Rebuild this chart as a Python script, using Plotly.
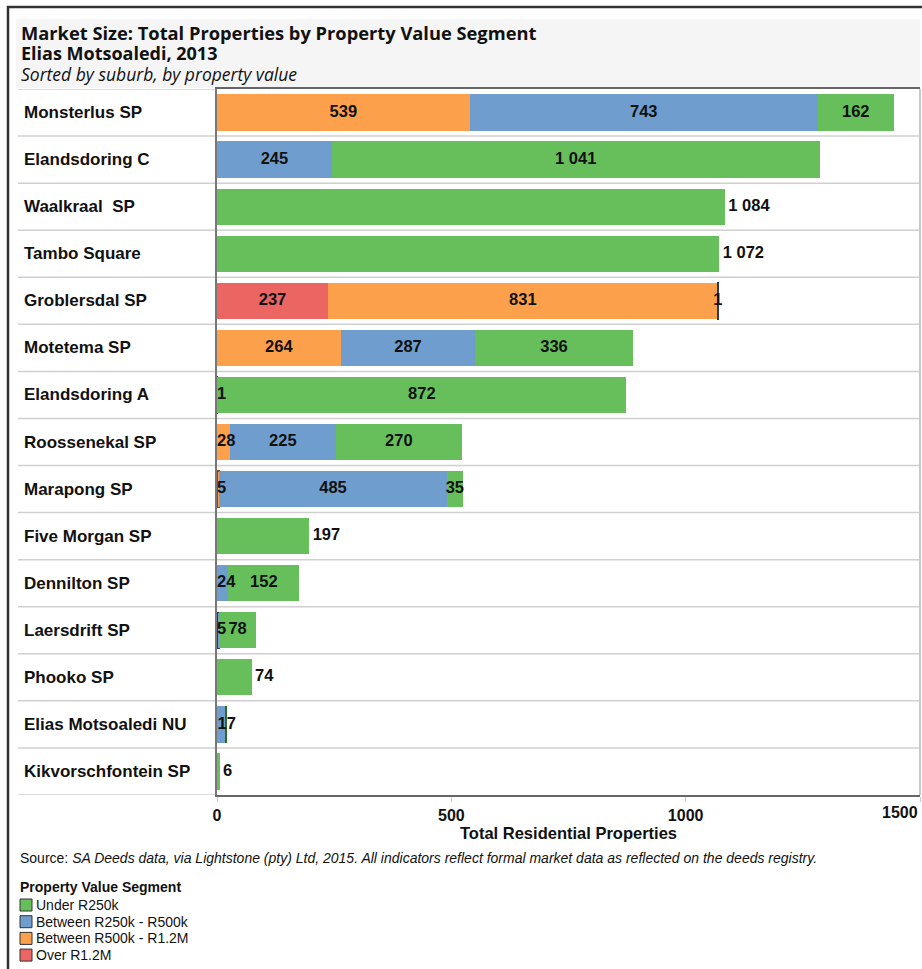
import plotly.graph_objects as go

# ---------------- data ----------------
suburbs = ["Monsterlus SP", "Elandsdoring C", "Waalkraal\u00a0 SP", "Tambo Square",
           "Groblersdal SP", "Motetema SP", "Elandsdoring A", "Roossenekal SP",
           "Marapong SP", "Five Morgan SP", "Dennilton SP", "Laersdrift SP",
           "Phooko SP", "Elias Motsoaledi NU", "Kikvorschfontein SP"]

segments = ["Over R1.2M", "Between R500k - R1.2M", "Between R250k - R500k", "Under R250k"]
colors = ["#EB6562", "#FDA04B", "#6F9ECE", "#67BF5C"]
edge_colors = ["#8A2A28", "#8A4A10", "#1F3F66", "#2E6A26"]

over_1_2m = [None, None, None, None, 237, None, None, None, None, None, None, None, None, None, None]
r500k_1_2m = [539, None, None, None, 831, 264, None, 28, 5, None, None, None, None, 1, None]
r250k_500k = [743, 245, None, None, 1, 287, 1, 225, 485, None, 24, 5, None, 17, None]
under_250k = [162, 1041, 1084, 1072, None, 336, 872, 270, 35, 197, 152, 78, 74, 3, 6]

series = [over_1_2m, r500k_1_2m, r250k_500k, under_250k]
hidden_labels = {("Elias Motsoaledi NU", "Between R500k - R1.2M"),
                 ("Elias Motsoaledi NU", "Under R250k")}
start_labels = {("Elandsdoring A", "Between R250k - R500k"),
                ("Roossenekal SP", "Between R500k - R1.2M"),
                ("Marapong SP", "Between R500k - R1.2M"),
                ("Dennilton SP", "Between R250k - R500k"),
                ("Laersdrift SP", "Between R250k - R500k"),
                ("Elias Motsoaledi NU", "Between R250k - R500k")}

tick_vals = [0, 500, 1000, 1500]
x_max = 1500

title1 = "Market Size: Total Properties by Property Value Segment"
title2 = "Elias Motsoaledi, 2013"
title3 = "Sorted by suburb, by property value"
x_title = "Total Residential Properties"
source = "Source: <i>SA Deeds data, via Lightstone (pty) Ltd, 2015. All indicators reflect formal market data as reflected on the deeds registry.</i>"
legend_title = "Property Value Segment"

# ---------------- layout geometry (pixels) ----------------
FW, FH = 922, 969
L, R, T, B = 217, 920, 89, 795
W, H = R - L, B - T


def px(x):
    return (x - L) / W


def py(y):
    return (B - y) / H


ARIAL = "Liberation Sans, Arial, sans-serif"
TFONT = "Open Sans, sans-serif"
LBL = dict(family=ARIAL, size=16.5, color="#111111", weight="bold")


def fmt(v):
    return f"{v:,}".replace(",", "\u00a0")


fig = go.Figure()
n = len(suburbs)

# stacked bars
for name, col, edge, vals in zip(segments, colors, edge_colors, series):
    fig.add_trace(go.Bar(
        y=suburbs, x=vals, orientation="h", name=name,
        marker=dict(color=col, line=dict(color=edge,
                                         width=[1.2 if (v is not None and v <= 5) else 0 for v in vals])),
        showlegend=False, hoverinfo="x+y+name",
    ))

# value labels, drawn on top of all bars
centre_x, centre_y, centre_t = [], [], []
start_x, start_y, start_t = [], [], []
out_x, out_y, out_t = [], [], []
for i, s in enumerate(suburbs):
    present = [(name, vals[i]) for name, vals in zip(segments, series) if vals[i] is not None]
    base = 0
    for name, v in present:
        label = "" if (s, name) in hidden_labels else fmt(v)
        if len(present) == 1:
            out_x.append(base + v); out_y.append(s); out_t.append("\u2009" + label)
        elif (s, name) in start_labels:
            start_x.append(base); start_y.append(s); start_t.append(label)
        else:
            centre_x.append(base + v / 2); centre_y.append(s); centre_t.append(label)
        base += v

for xs, ys, ts, pos in ((centre_x, centre_y, centre_t, "middle center"),
                        (start_x, start_y, start_t, "middle right"),
                        (out_x, out_y, out_t, "middle right")):
    fig.add_trace(go.Scatter(x=xs, y=ys, text=ts, mode="text", textposition=pos,
                             textfont=LBL, cliponaxis=False, showlegend=False,
                             hoverinfo="skip"))

shapes = []
# outer frame
shapes.append(dict(type="rect", xref="paper", yref="paper", x0=px(8), x1=px(1100),
                   y0=py(1100), y1=py(7), line=dict(color="#333333", width=2.5),
                   fillcolor="rgba(0,0,0,0)", layer="above"))
# title background
shapes.append(dict(type="rect", xref="paper", yref="paper", x0=px(16), x1=px(920),
                   y0=py(88), y1=py(19), line=dict(width=0), fillcolor="#F5F5F5", layer="below"))
# row separators
for i in range(n + 1):
    shapes.append(dict(type="line", xref="paper", yref="y", x0=px(18), x1=px(L) if i in (0, n) else px(920),
                       y0=i - 0.5, y1=i - 0.5, line=dict(color="#D0D0D0", width=1.5), layer="below"))
# right border of plot area
shapes.append(dict(type="line", xref="paper", yref="paper", x0=1, x1=1, y0=0, y1=1,
                   line=dict(color="#C8C8C8", width=2)))

annotations = []
annotations.append(dict(text="<b>" + title1 + "</b>", xref="paper", yref="paper", x=px(19), y=py(32),
                        xanchor="left", yanchor="middle", showarrow=False,
                        font=dict(family=TFONT, size=18.3, color="#111111")))
annotations.append(dict(text="<b>" + title2 + "</b>", xref="paper", yref="paper", x=px(19), y=py(53),
                        xanchor="left", yanchor="middle", showarrow=False,
                        font=dict(family=TFONT, size=18, color="#111111")))
annotations.append(dict(text="<i>" + title3 + "</i>", xref="paper", yref="paper", x=px(19), y=py(74),
                        xanchor="left", yanchor="middle", showarrow=False,
                        font=dict(family=TFONT, size=17.5, color="#111111")))
for s in suburbs:
    annotations.append(dict(text="<b>" + s + "</b>", xref="paper", yref="y", x=px(22), y=s,
                            xanchor="left", yanchor="middle", showarrow=False,
                            font=dict(family=ARIAL, size=17, color="#111111")))
# last tick label kept inside the figure
annotations.append(dict(text="<b>" + str(tick_vals[-1]) + "</b>", xref="x", yref="paper",
                        x=tick_vals[-1], y=py(812), xanchor="right", yanchor="middle",
                        showarrow=False, font=dict(family=ARIAL, size=16, color="#111111")))
annotations.append(dict(text=source, xref="paper", yref="paper", x=px(18), y=py(858),
                        xanchor="left", yanchor="middle", showarrow=False,
                        font=dict(family=ARIAL, size=14, color="#111111")))
annotations.append(dict(text="<b>" + legend_title + "</b>", xref="paper", yref="paper", x=px(18), y=py(887),
                        xanchor="left", yanchor="middle", showarrow=False,
                        font=dict(family=ARIAL, size=14, color="#111111")))
leg_y0, leg_step = 905, 16.7
for k, (name, col) in enumerate(zip(segments[::-1], colors[::-1])):
    yc = leg_y0 + k * leg_step
    shapes.append(dict(type="rect", xref="paper", yref="paper", x0=px(20), x1=px(32),
                       y0=py(yc + 6), y1=py(yc - 6), fillcolor=col,
                       line=dict(color="#333333", width=1)))
    annotations.append(dict(text=name, xref="paper", yref="paper", x=px(34), y=py(yc),
                            xanchor="left", yanchor="middle", showarrow=False,
                            font=dict(family=ARIAL, size=14, color="#111111")))

fig.update_layout(
    width=FW, height=FH, barmode="stack", bargap=0.23,
    margin=dict(l=L, r=FW - R, t=T, b=FH - B, autoexpand=False),
    paper_bgcolor="white", plot_bgcolor="white",
    separators=". ", showlegend=False,
    shapes=shapes, annotations=annotations,
    xaxis=dict(range=[0, x_max], tickvals=tick_vals,
               ticktext=["<b>%d</b>" % v for v in tick_vals[:-1]] + [""],
               showgrid=False, zeroline=False, showline=True, mirror=True,
               linecolor="#666666", linewidth=2, ticks="outside", ticklen=5,
               tickcolor="#CCCCCC", tickfont=dict(family=ARIAL, size=16, color="#111111"),
               title=dict(text="<b>" + x_title + "</b>", standoff=3,
                          font=dict(family=ARIAL, size=16.5, color="#111111")),
               automargin=False, fixedrange=True),
    yaxis=dict(type="category", range=[n - 0.5, -0.5], showticklabels=False,
               showgrid=False, zeroline=False, showline=True, linecolor="#777777",
               linewidth=2, ticks="", automargin=False, fixedrange=True),
)

fig.write_html("out.html", config={"displayModeBar": False},
               post_script="document.body.style.margin='0';document.body.style.overflow='hidden';")
